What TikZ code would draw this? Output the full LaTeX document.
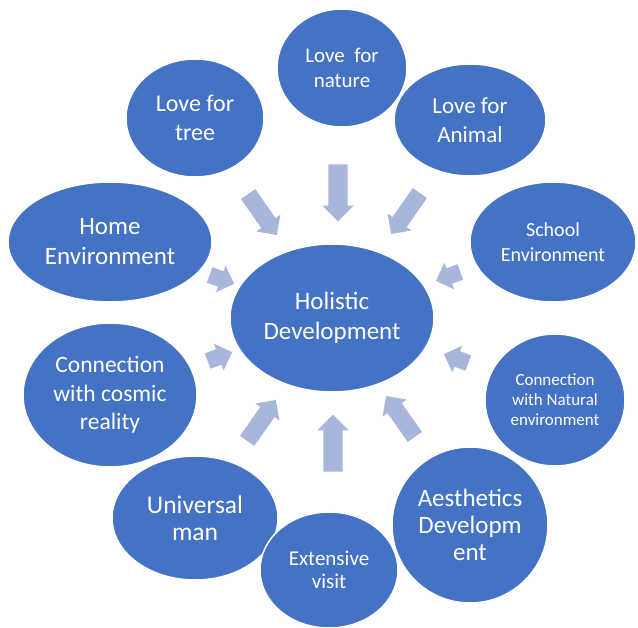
\documentclass[tikz,border=0pt]{standalone}
\usepackage{fontspec}
\setmainfont{Carlito}
\usetikzlibrary{shapes.geometric,shapes.arrows}
\definecolor{bubblefill}{HTML}{4472C4}
\definecolor{flowfill}{HTML}{A9B6DC}
\newcommand{\fs}[2]{\fontsize{#1}{#2}\selectfont}

\begin{document}
\begin{tikzpicture}[x=1pt,y=-1pt,
  bubble/.style={ellipse,fill=bubblefill,draw=white,line width=1.5pt,
    text=white,align=center,inner sep=0pt},
  flowarrow/.style={single arrow,fill=flowfill,draw=none,inner xsep=0pt,
    single arrow head extend=6pt},
  bigflow/.style={flowarrow,minimum height=57pt,inner ysep=9.5pt},
  midflow/.style={flowarrow,minimum height=50pt,inner ysep=8.5pt},
  smallflow/.style={flowarrow,minimum height=26pt,inner ysep=8pt}]
  \useasboundingbox (0,0) rectangle (638,628);

  % outer topics
  \node[bubble,minimum width=138pt,minimum height=118pt,font=\fs{24}{29}]
    (tree) at (195,118) {Love for\\tree};
  \node[bubble,minimum width=130pt,minimum height=118pt,font=\fs{21}{25}]
    (nature) at (342,68) {Love\ \ for\\nature};
  \node[bubble,minimum width=152pt,minimum height=112pt,font=\fs{23}{29}]
    (animal) at (470,120) {Love for\\Animal};
  \node[bubble,minimum width=204pt,minimum height=120pt,font=\fs{25}{30}]
    (home) at (110,242) {Home\\Environment};
  \node[bubble,minimum width=166pt,minimum height=120pt,font=\fs{20}{25}]
    (school) at (553,242) {School\\Environment};
  \node[bubble,minimum width=174pt,minimum height=144pt,font=\fs{23.5}{28.5}]
    (cosmic) at (110,395) {Connection\\with cosmic\\reality};
  \node[bubble,minimum width=140pt,minimum height=132pt,font=\fs{17}{20}]
    (natural) at (555,400) {Connection\\with Natural\\environment};
  \node[bubble,minimum width=166pt,minimum height=124pt,font=\fs{25.5}{27}]
    (universal) at (195,518) {Universal\\man};
  \node[bubble,minimum width=156pt,minimum height=156pt,font=\fs{25}{27}]
    (aesthetics) at (470,525) {Aesthetics\\Developm\\ent};
  \node[bubble,minimum width=138pt,minimum height=116pt,font=\fs{21}{23}]
    (extensive) at (329,570) {Extensive\\visit};

  % central goal
  \node[bubble,minimum width=204pt,minimum height=148pt,font=\fs{25}{30}]
    (holistic) at (332,318) {Holistic\\Development};

  % block arrows pointing inwards
  \node[bigflow,rotate=-90]   (fnature)     at (338,188) {};
  \node[midflow,rotate=-55]   (ftree)       at (260,211) {};
  \node[midflow,rotate=-125]  (fanimal)     at (408,210) {};
  \node[smallflow,rotate=-20] (fhome)       at (218,278) {};
  \node[smallflow,rotate=-160](fschool)     at (452,275) {};
  \node[smallflow,rotate=20]  (fcosmic)     at (216,358) {};
  \node[smallflow,rotate=160] (fnatural)    at (460,360) {};
  \node[midflow,rotate=55]    (funiversal)  at (259,424) {};
  \node[midflow,rotate=125]   (faesthetics) at (403,420) {};
  \node[bigflow,rotate=90]    (fextensive)  at (333,448) {};
\end{tikzpicture}
\end{document}
